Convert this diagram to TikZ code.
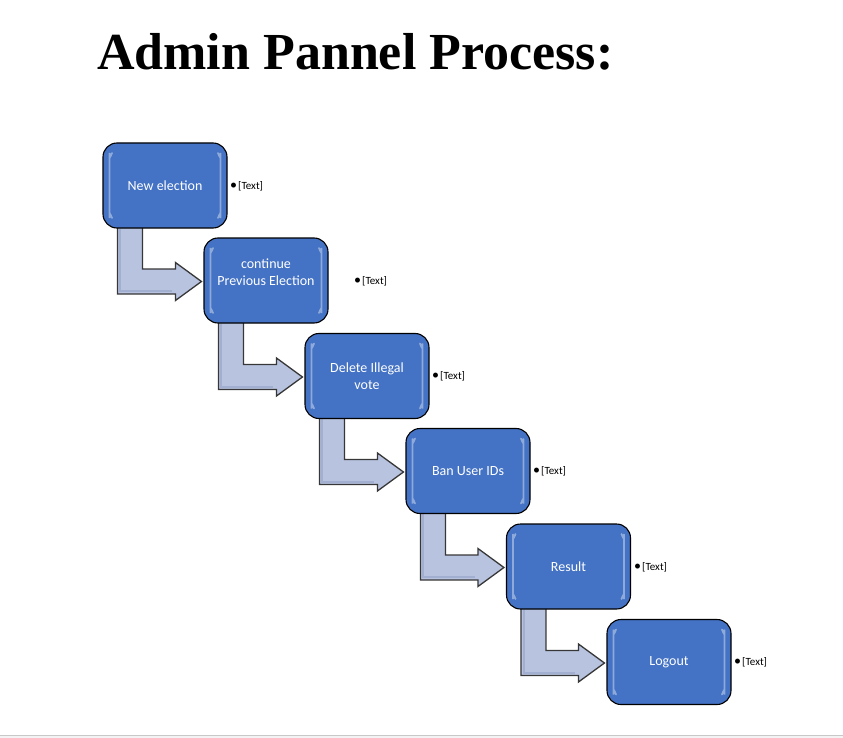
\documentclass[tikz,border=0pt]{standalone}
\usepackage{fontspec}
\setmainfont{Carlito}
\newfontfamily\titlefont{Liberation Serif}
\usetikzlibrary{calc}
\definecolor{boxblue}{RGB}{68,114,196}
\definecolor{arrfill}{RGB}{184,195,224}
\definecolor{arrdark}{RGB}{150,162,198}
\definecolor{arrline}{RGB}{55,55,55}
\definecolor{rulegray}{RGB}{200,200,200}
\definecolor{belowgray}{RGB}{243,243,243}
\tikzset{
  stepbox/.style={draw=black, line width=1.1pt, fill=boxblue, rounded corners=14pt,
    minimum width=124pt, minimum height=85pt, inner sep=2pt, text=white, align=center,
    font=\fontsize{14}{16.5}\selectfont,
    path picture={
      \draw[white, opacity=0.4, line width=1.8pt, line cap=round]
        ($(path picture bounding box.north west)+(9,10)$) .. controls ($(path picture bounding box.north west)+(6.5,16)$) .. ($(path picture bounding box.north west)+(6.5,24)$)
        -- ($(path picture bounding box.south west)+(6.5,-24)$) .. controls ($(path picture bounding box.south west)+(6.5,-16)$) .. ($(path picture bounding box.south west)+(9,-10)$)
        ($(path picture bounding box.north east)+(-9,10)$) .. controls ($(path picture bounding box.north east)+(-6.5,16)$) .. ($(path picture bounding box.north east)+(-6.5,24)$)
        -- ($(path picture bounding box.south east)+(-6.5,-24)$) .. controls ($(path picture bounding box.south east)+(-6.5,-16)$) .. ($(path picture bounding box.south east)+(-9,-10)$);
    }},
  bentarr/.style={draw=arrline, line width=1.3pt, fill=arrfill, line join=miter},
  bullettext/.style={anchor=west, inner sep=0pt, font=\fontsize{11}{12}\selectfont}
}
\newcommand\bentarrow[2]{%
  \draw[bentarr] ($(#1.south west)+(15,-3)$) -- ($(#1.south west |- #2.west)+(15,13.5)$)
    -- ($(#2.west)+(-28,13.5)$) -- ($(#2.west)+(-28,20)$) -- ($(#2.west)+(-2,1)$)
    -- ($(#2.west)+(-28,-18)$) -- ($(#2.west)+(-28,-11.5)$)
    -- ($(#1.south west |- #2.west)+(40,-11.5)$) -- ($(#1.south west)+(40,-3)$) -- cycle;
  \draw[arrdark, line width=2pt, opacity=0.6] ($(#1.south west)+(18,0)$) -- ($(#1.south west |- #2.west)+(18,10.5)$) -- ($(#2.west)+(-31,10.5)$);
}
\newcommand\bul{{\fontsize{14}{12}\selectfont•}\hspace{1pt}[Text]}
\begin{document}
\begin{tikzpicture}[x=1pt, y=-1pt]
\useasboundingbox (0,0) rectangle (843,738);
\fill[belowgray] (0,736) rectangle (843,738);
\draw[rulegray, line width=1.2pt] (0,735.5) -- (843,735.5);

\node[anchor=base west, inner sep=0pt, font=\titlefont\bfseries\fontsize{52}{60}\selectfont] (title) at (97,70) {Admin Pannel Process:};

\coordinate (p1) at (165,185.5);
\coordinate (p2) at (266,280.5);
\coordinate (p3) at (367,376);
\coordinate (p4) at (468,471);
\coordinate (p5) at (568.5,566.5);
\coordinate (p6) at (669,662);

% invisible placement nodes for connector geometry
\path (p1) node[stepbox, draw=none, fill=none, path picture={}] (b1) {};
\path (p2) node[stepbox, draw=none, fill=none, path picture={}] (b2) {};
\path (p3) node[stepbox, draw=none, fill=none, path picture={}] (b3) {};
\path (p4) node[stepbox, draw=none, fill=none, path picture={}] (b4) {};
\path (p5) node[stepbox, draw=none, fill=none, path picture={}] (b5) {};
\path (p6) node[stepbox, draw=none, fill=none, path picture={}] (b6) {};

\bentarrow{b1}{b2}
\bentarrow{b2}{b3}
\bentarrow{b3}{b4}
\bentarrow{b4}{b5}
\bentarrow{b5}{b6}

\path (p1) node[stepbox] (n1) {New election};
\path (p2) node[stepbox] (n2) {continue\\Previous Election\\\mbox{}};
\path (p3) node[stepbox] (n3) {Delete Illegal\\vote};
\path (p4) node[stepbox] (n4) {Ban User IDs};
\path (p5) node[stepbox] (n5) {Result};
\path (p6) node[stepbox] (n6) {Logout};

\node[bullettext] (t1) at (230,186) {\bul};
\node[bullettext] (t2) at (354,281) {\bul};
\node[bullettext] (t3) at (432,376) {\bul};
\node[bullettext] (t4) at (533,471.5) {\bul};
\node[bullettext] (t5) at (634,567) {\bul};
\node[bullettext] (t6) at (734,662.5) {\bul};
\end{tikzpicture}
\end{document}
